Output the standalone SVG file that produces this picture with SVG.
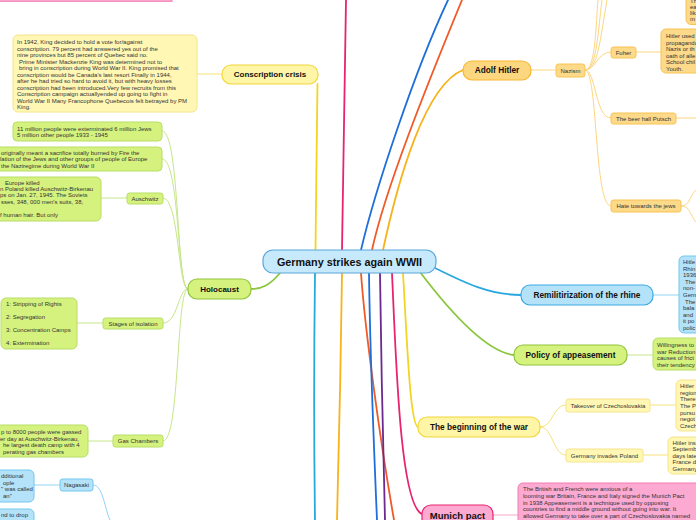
<svg xmlns="http://www.w3.org/2000/svg" width="696" height="520" viewBox="0 0 696 520">
<style>
text{font-family:"Liberation Sans",Arial,sans-serif;}
.t0{font-size:10.8px;font-weight:bold;fill:#111;text-anchor:middle;}
.t1{font-size:8.3px;font-weight:bold;fill:#111;text-anchor:middle;}
.t2{font-size:6px;fill:#333;text-anchor:middle;}
.d{font-size:6px;fill:#333;}
.main{fill:none;stroke-width:1.8;stroke-linecap:round;}
.sub{fill:none;stroke-width:1;}
.ny{fill:#fff5a6;stroke:#f2d63a;stroke-width:1.2;}
.dy{fill:#fff7b3;stroke:#f5e48c;stroke-width:1;}
.ng{fill:#d6f27e;stroke:#8fc43a;stroke-width:1.2;}
.dg{fill:#d6f27e;stroke:#b7de66;stroke-width:1;}
.no{fill:#fdd680;stroke:#f7b731;stroke-width:1.2;}
.do{fill:#fdd98a;stroke:#f8c452;stroke-width:1;}
.nb{fill:#b4e2f9;stroke:#3aa9e3;stroke-width:1.2;}
.db{fill:#b4e2f9;stroke:#72c7ef;stroke-width:1;}
.np{fill:#fcaad2;stroke:#e8246e;stroke-width:1.2;}
.dp{fill:#fcaad2;stroke:#f27db3;stroke-width:1;}
</style>
<rect width="696" height="520" fill="#ffffff"/>
<g id="connectors">
<path class="main" stroke="#f2d423" d="M315.5,250 C316,200 317,120 317.5,84"/>
<path class="main" stroke="#e8246e" d="M342,250 C343,170 345,80 346,0"/>
<path class="main" stroke="#1e6fd9" d="M361,250 C375,190 415,70 448,0"/>
<path class="main" stroke="#f05a28" d="M372,250 C385,190 425,90 462,0"/>
<path class="main" stroke="#f8b21b" d="M383,250 C398,180 425,85 463,70"/>
<path class="main" stroke="#29a8e0" d="M315,273 C314,350 314,450 315,520"/>
<path class="main" stroke="#f8b21b" d="M342,273 C341,350 339,450 337,520"/>
<path class="main" stroke="#f05a28" d="M361,273 C365,330 380,440 394,520"/>
<path class="main" stroke="#1e6fd9" d="M369,273 C370,350 374,450 377,520"/>
<path class="main" stroke="#6b2a8f" d="M380,273 C381,350 383,450 385,520"/>
<path class="main" stroke="#e8246e" d="M392,273 C396,360 400,505 422,514"/>
<path class="main" stroke="#f2d423" d="M403,273 C407,340 410,425 418,427"/>
<path class="main" stroke="#8cc63f" d="M420,272 C445,305 485,352 514,355"/>
<path class="main" stroke="#29a8e0" d="M435,268 C465,283 490,295 521,295"/>
<path class="main" stroke="#8cc63f" d="M280,273 C270,285 262,289 251,289"/>
<path class="sub" stroke="#f5e27a" d="M222,74 L197,74"/>
<path class="sub" stroke="#fdd680" d="M531,70 L556,70"/>
<path class="sub" stroke="#fdd680" d="M585,70 C595,70 598,52 611,52"/>
<path class="sub" stroke="#fdd680" d="M585,70 C596,70 595,118 611,118"/>
<path class="sub" stroke="#fdd680" d="M585,70 C598,70 594,206 611,206"/>
<path class="sub" stroke="#fdd680" d="M585,70 C596,70 596,20 598,0"/>
<path class="sub" stroke="#fdd680" d="M585,70 C597,70 598,30 602,0"/>
<path class="sub" stroke="#fdd680" d="M585,70 C598,70 600,40 607,0"/>
<path class="sub" stroke="#fdd680" d="M636,52 L661,52"/>
<path class="sub" stroke="#fdd680" d="M676,118 L696,118"/>
<path class="sub" stroke="#fdd680" d="M681,206 C690,206 690,195 696,190"/>
<path class="sub" stroke="#fdd680" d="M681,206 C690,206 690,215 696,222"/>
<path class="sub" stroke="#8fd3f4" d="M653,295 L679,295"/>
<path class="sub" stroke="#c6e68a" d="M627,355 L653,355"/>
<path class="sub" stroke="#f5e27a" d="M540,427 C553,427 553,405 566,405"/>
<path class="sub" stroke="#f5e27a" d="M540,427 C553,427 553,455 566,455"/>
<path class="sub" stroke="#f5e27a" d="M650,405 L676,405"/>
<path class="sub" stroke="#f5e27a" d="M643,455 L668,455"/>
<path class="sub" stroke="#f7a3c9" d="M493,515 L518,515"/>
<path class="sub" stroke="#c6e68a" d="M188,289 C176,289 180,131 162,131"/>
<path class="sub" stroke="#c6e68a" d="M188,289 C177,289 180,159 162,159"/>
<path class="sub" stroke="#c6e68a" d="M188,289 C178,289 179,198 163,198"/>
<path class="sub" stroke="#c6e68a" d="M188,289 C178,289 178,323 163,323"/>
<path class="sub" stroke="#c6e68a" d="M188,289 C176,289 180,441 163,441"/>
<path class="sub" stroke="#c6e68a" d="M127,198 L101,198"/>
<path class="sub" stroke="#c6e68a" d="M103,323 L77,323"/>
<path class="sub" stroke="#c6e68a" d="M113,441 L88,441"/>
<path class="sub" stroke="#8fd3f4" d="M60,485 L34,485"/>
<path class="sub" stroke="#8fd3f4" d="M93,485 C103,485 105,510 110,520"/>
</g>
<g id="top-pink"><rect x="-5" y="-20" width="177" height="21.3" class="dp"/></g>
<g id="center"><rect x="263" y="250" width="173" height="23" rx="10" fill="#c6e9fb" stroke="#5aa7dc" stroke-width="1.2"/><text x="349.5" y="265.5" class="t0">Germany strikes again WWII</text></g>
<g id="conscription"><rect x="222" y="65" width="96" height="19" rx="9" class="ny"/><text x="270" y="77" class="t1" style="font-size:8px">Conscription crisis</text></g>
<g id="conscription-detail"><rect x="13" y="35" width="184" height="77" rx="5" class="dy"/>
<text class="d" x="17" y="44">In 1942, King decided to hold a vote for/against</text>
<text class="d" x="17" y="50.5">conscription. 79 percent had answered yes out of the</text>
<text class="d" x="17" y="57">nine provinces but 85 percent of Quebec said no.</text>
<text class="d" x="19" y="63.5">Prime Minister Mackenzie King was determined not to</text>
<text class="d" x="19" y="70">bring in conscription during World War II.  King promised that</text>
<text class="d" x="17" y="76.5">conscription would be Canada's last resort Finally in 1944,</text>
<text class="d" x="17" y="83">after he had tried so hard to avoid it, but with heavy losses</text>
<text class="d" x="17" y="89.5">conscription had been introduced.Very few recruits from this</text>
<text class="d" x="17" y="96">Conscription campaign actuallyended up going to fight in</text>
<text class="d" x="17" y="102.5">World War II Many Francophone Quebecois felt betrayed by PM</text>
<text class="d" x="17" y="109">King.</text></g>
<g id="hitler"><rect x="463" y="61" width="68" height="19" rx="9" class="no"/><text x="497" y="73" class="t1">Adolf Hitler</text></g>
<g id="nazism"><rect x="556" y="64" width="29" height="13" rx="2.5" class="do"/><text x="570.5" y="72.5" class="t2">Nazism</text></g>
<g id="top-detail"><rect x="686" y="-20" width="20" height="44.5" rx="5" class="do"/>
<text class="d" x="690" y="3">Th</text><text class="d" x="690" y="9">ea</text><text class="d" x="690" y="15">lik</text><text class="d" x="690" y="21">m</text></g>
<g id="fuher"><rect x="611" y="47" width="25" height="11" rx="2.5" class="do"/><text x="623.5" y="54.5" class="t2">Fuher</text></g>
<g id="fuher-detail"><rect x="661" y="29" width="45" height="44" rx="5" class="do"/>
<text class="d" x="666" y="38">Hitler used</text><text class="d" x="666" y="44.5">propaganda</text><text class="d" x="666" y="51">Nazis or th</text><text class="d" x="666" y="57.5">oath of alle</text><text class="d" x="666" y="64">School chil</text><text class="d" x="666" y="70.5">Youth.</text></g>
<g id="beer"><rect x="611" y="113" width="65" height="11" rx="2.5" class="do"/><text x="643.5" y="120.5" class="t2">The beer hall Putsch</text></g>
<g id="hate"><rect x="611" y="200" width="70" height="12" rx="2.5" class="do"/><text x="646" y="208" class="t2">Hate towards the jews</text></g>
<g id="remil"><rect x="521" y="285" width="132" height="20" rx="9" class="nb"/><text x="587" y="298" class="t1">Remilitirization of the rhine</text></g>
<g id="remil-detail"><rect x="679" y="256" width="30" height="77" rx="5" class="db"/>
<text class="d" x="683" y="264">Hitle</text><text class="d" x="683" y="270.6">Rhin</text><text class="d" x="683" y="277.2">1936</text><text class="d" x="685" y="283.8">The</text><text class="d" x="683" y="290.4">non-</text><text class="d" x="683" y="297">Germ</text><text class="d" x="685" y="303.6">The</text><text class="d" x="683" y="310.2">bala</text><text class="d" x="683" y="316.8">and</text><text class="d" x="683" y="323.4">it po</text><text class="d" x="683" y="330">polic</text></g>
<g id="appeasement"><rect x="514" y="345" width="113" height="20" rx="9" class="ng"/><text x="570.5" y="358" class="t1">Policy of appeasement</text></g>
<g id="appeasement-detail"><rect x="653" y="338" width="50" height="32" rx="5" class="dg"/>
<text class="d" x="657" y="347">Willingness to</text><text class="d" x="657" y="353.5">war Reduction</text><text class="d" x="657" y="360">causes of frict</text><text class="d" x="657" y="366.5">their tendency</text></g>
<g id="beginning"><rect x="418" y="417" width="122" height="20" rx="9" class="ny"/><text x="479" y="430" class="t1">The beginning of the war</text></g>
<g id="takeover"><rect x="566" y="399" width="84" height="13" rx="2.5" class="dy"/><text x="608" y="407.5" class="t2">Takeover of Czechoslovakia</text></g>
<g id="takeover-detail"><rect x="676" y="380" width="30" height="51" rx="5" class="dy"/>
<text class="d" x="680" y="388">Hitler</text><text class="d" x="680" y="394.7">region</text><text class="d" x="680" y="401.3">There</text><text class="d" x="680" y="407.9">The P</text><text class="d" x="680" y="414.5">pursu</text><text class="d" x="680" y="421.1">negot</text><text class="d" x="680" y="427.7">Czech</text></g>
<g id="poland"><rect x="566" y="449" width="77" height="13" rx="2.5" class="dy"/><text x="604.5" y="457.5" class="t2">Germany invades Poland</text></g>
<g id="poland-detail"><rect x="668" y="437" width="40" height="37" rx="5" class="dy"/>
<text class="d" x="672.5" y="444.7">Hitler ins</text><text class="d" x="672.5" y="451.2">Septemb</text><text class="d" x="672.5" y="457.7">days late</text><text class="d" x="672.5" y="464.2">France d</text><text class="d" x="672.5" y="470.7">Germany</text></g>
<g id="munich"><rect x="422" y="505" width="71" height="30" rx="9" class="np"/><text x="457.5" y="518.8" class="t1" style="font-size:9.5px">Munich pact</text></g>
<g id="munich-detail"><rect x="518" y="483" width="190" height="50" rx="5" class="dp"/>
<text class="d" x="523" y="491">The British and French were anxious of a</text>
<text class="d" x="523" y="497.8">looming war Britain, France and Italy signed the Munich Pact</text>
<text class="d" x="523" y="504.6">in 1938 Appeasement is a technique used by opposing</text>
<text class="d" x="523" y="511.4">countries to find a middle ground without going into war. It</text>
<text class="d" x="523" y="518.2">allowed Germany to take over a part of Czechoslovakia named</text></g>
<g id="holocaust"><rect x="188" y="279" width="63" height="20" rx="9" class="ng"/><text x="219.5" y="292" class="t1" style="font-size:8px">Holocaust</text></g>
<g id="holo-1"><rect x="13" y="122" width="149" height="19" rx="4" class="dg"/>
<text class="d" x="17" y="131">11 million people were exterminated 6 million Jews</text><text class="d" x="17" y="137">5 million other people 1933 - 1945</text></g>
<g id="holo-2"><rect x="-10" y="147" width="172" height="24" rx="4" class="dg"/>
<text class="d" x="1" y="155">originally meant a sacrifice totally burned by Fire the</text><text class="d" x="0" y="161.3">lation of the Jews and other groups of people of Europe</text><text class="d" x="1" y="167.6">the Naziregime during World War II</text></g>
<g id="auschwitz"><rect x="127" y="193" width="36" height="11" rx="2.5" class="dg"/><text x="145" y="200.5" class="t2">Auschwitz</text></g>
<g id="auschwitz-detail"><rect x="-10" y="177" width="111" height="44" rx="5" class="dg"/>
<text class="d" x="5" y="185">Europe killed</text><text class="d" x="0" y="191">n Poland killed Auschwitz-Birkenau</text><text class="d" x="0" y="197.3">ps on Jan. 27, 1945. The Soviets</text><text class="d" x="1" y="204">sses, 348, 000 men's suits, 38,</text><text class="d" x="0" y="217">f human hair. But only</text></g>
<g id="stages"><rect x="103" y="318" width="60" height="11" rx="2.5" class="dg"/><text x="133" y="325.5" class="t2">Stages of isolation</text></g>
<g id="stages-detail"><rect x="1" y="298" width="76" height="51" rx="5" class="dg"/>
<text class="d" x="6" y="306">1: Stripping of Rights</text><text class="d" x="6" y="319">2: Segregation</text><text class="d" x="6" y="332">3: Concentration Camps</text><text class="d" x="6" y="345">4: Extermination</text></g>
<g id="gas"><rect x="113" y="435" width="50" height="12" rx="2.5" class="dg"/><text x="138" y="443" class="t2">Gas Chambers</text></g>
<g id="gas-detail"><rect x="-10" y="425" width="98" height="32" rx="5" class="dg"/>
<text class="d" x="1" y="434">p to 8000 people were gassed</text><text class="d" x="0" y="440.5">er day at Auschwitz-Birkenau,</text><text class="d" x="3" y="447">he largest death camp with 4</text><text class="d" x="3" y="453.5">perating gas chambers</text></g>
<g id="nagasaki"><rect x="60" y="479" width="33" height="12" rx="2.5" class="db"/><text x="76.5" y="487" class="t2">Nagasaki</text></g>
<g id="nagasaki-detail"><rect x="-10" y="470" width="44" height="32" rx="5" class="db"/>
<text class="d" x="1" y="478">dditional</text><text class="d" x="3" y="484.5">ople</text><text class="d" x="1" y="491">" was called</text><text class="d" x="3" y="497.5">an"</text></g>
<g id="blue-detail-2"><rect x="-10" y="509" width="44" height="20" rx="5" class="db"/><text class="d" x="1" y="517">nd to drop</text></g>
</svg>
